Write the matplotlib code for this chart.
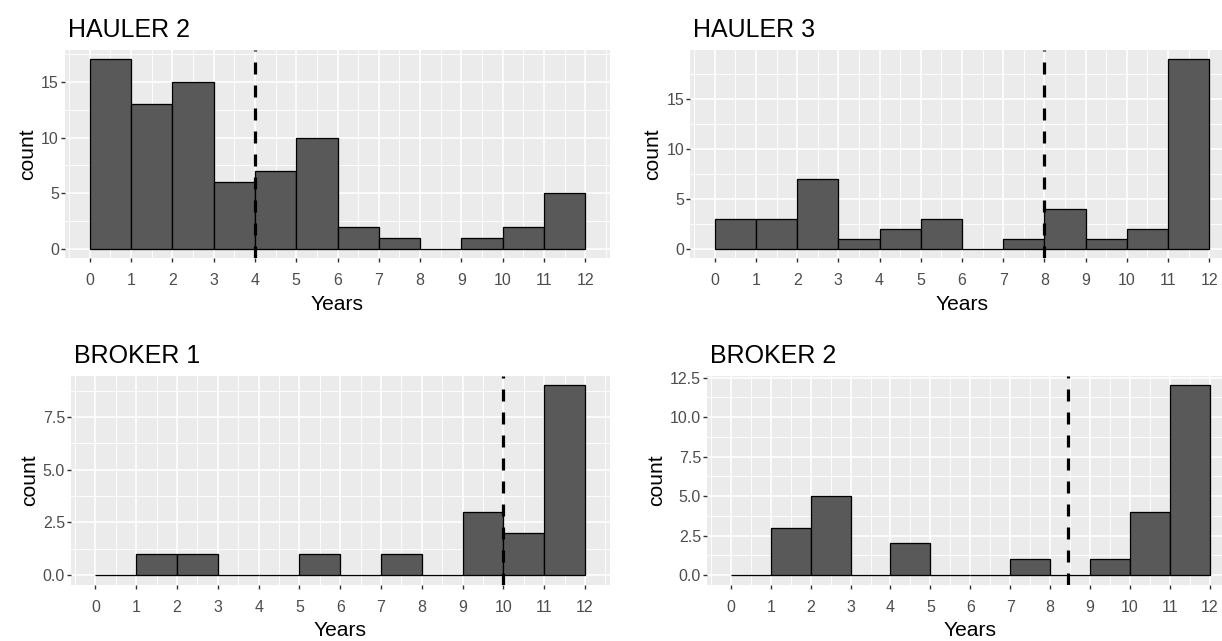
import numpy as np
import matplotlib
matplotlib.use("Agg")
import matplotlib.pyplot as plt
from matplotlib.ticker import MultipleLocator, FormatStrFormatter

plt.rcParams['font.family'] = ['Liberation Sans', 'DejaVu Sans']
plt.rcParams['lines.scale_dashes'] = False

# one-year bins from 0 to 12
bin_edges = list(range(0, 13))

hauler2_counts = [17, 13, 15, 6, 7, 10, 2, 1, 0, 1, 2, 5]
hauler3_counts = [3, 3, 7, 1, 2, 3, 0, 1, 4, 1, 2, 19]
broker1_counts = [0, 1, 1, 0, 0, 1, 0, 1, 0, 3, 2, 9]
broker2_counts = [0, 3, 5, 0, 2, 0, 0, 1, 0, 1, 4, 12]

titles = ['HAULER 2', 'HAULER 3', 'BROKER 1', 'BROKER 2']
cutoffs = [4, 8, 10, 8.45]
y_steps = [5, 5, 2.5, 2.5]
y_formats = ['%d', '%d', '%.1f', '%.1f']

W, H = 1222, 641

# panel boxes in pixels: left, top, right, bottom
boxes = [
    (65, 50, 610, 258.5),
    (690, 50, 1234, 258.5),
    (71, 376, 609.5, 584.5),
    (707, 376, 1233.5, 584.5),
]

PANEL = '#EBEBEB'
BAR = '#595959'
TXT = '#4D4D4D'


def px(v):
    # pixels to points at 100 dpi
    return v * 0.72


def draw_panel(ax, counts, title, cutoff, step, fmt):
    ax.set_facecolor(PANEL)
    for s in ax.spines.values():
        s.set_visible(False)

    edges = np.array(bin_edges)
    ax.bar(edges[:-1], counts, width=1, align='edge', color=BAR,
           edgecolor='black', linewidth=px(1.3), zorder=3)

    vl = ax.axvline(cutoff, color='black', linewidth=px(3.2), zorder=4)
    vl.set_dashes([px(12), px(11)])

    top = max(counts)
    ax.set_xlim(-0.6, 12.6)
    ax.set_ylim(-0.05 * top, 1.05 * top)

    ax.xaxis.set_major_locator(MultipleLocator(1))
    ax.xaxis.set_minor_locator(MultipleLocator(0.5))
    ax.yaxis.set_major_locator(MultipleLocator(step))
    ax.yaxis.set_minor_locator(MultipleLocator(step / 2))
    ax.yaxis.set_major_formatter(FormatStrFormatter(fmt))

    ax.grid(which='major', color='white', linewidth=px(1.6), zorder=0)
    ax.grid(which='minor', color='white', linewidth=px(0.9), zorder=0)
    ax.set_axisbelow(True)

    ax.tick_params(which='major', length=px(4), width=px(1.4), color='#333333',
                   labelcolor=TXT, labelsize=px(16))
    ax.tick_params(axis='x', pad=px(11))
    ax.tick_params(axis='y', pad=px(2))
    ax.tick_params(which='minor', length=0)

    ax.set_xlabel('Years', fontsize=px(21), labelpad=px(7))
    ax.set_ylabel('count', fontsize=px(21), labelpad=px(4))
    ax.set_title(title, loc='left', fontsize=px(25), pad=px(13), x=0.005)


fig = plt.figure(figsize=(W / 100, H / 100), dpi=100)
all_counts = [hauler2_counts, hauler3_counts, broker1_counts, broker2_counts]
for i in range(4):
    l, t, r, b = boxes[i]
    ax = fig.add_axes([l / W, 1 - b / H, (r - l) / W, (b - t) / H])
    draw_panel(ax, all_counts[i], titles[i], cutoffs[i], y_steps[i], y_formats[i])

fig.savefig('out.png', dpi=100)
